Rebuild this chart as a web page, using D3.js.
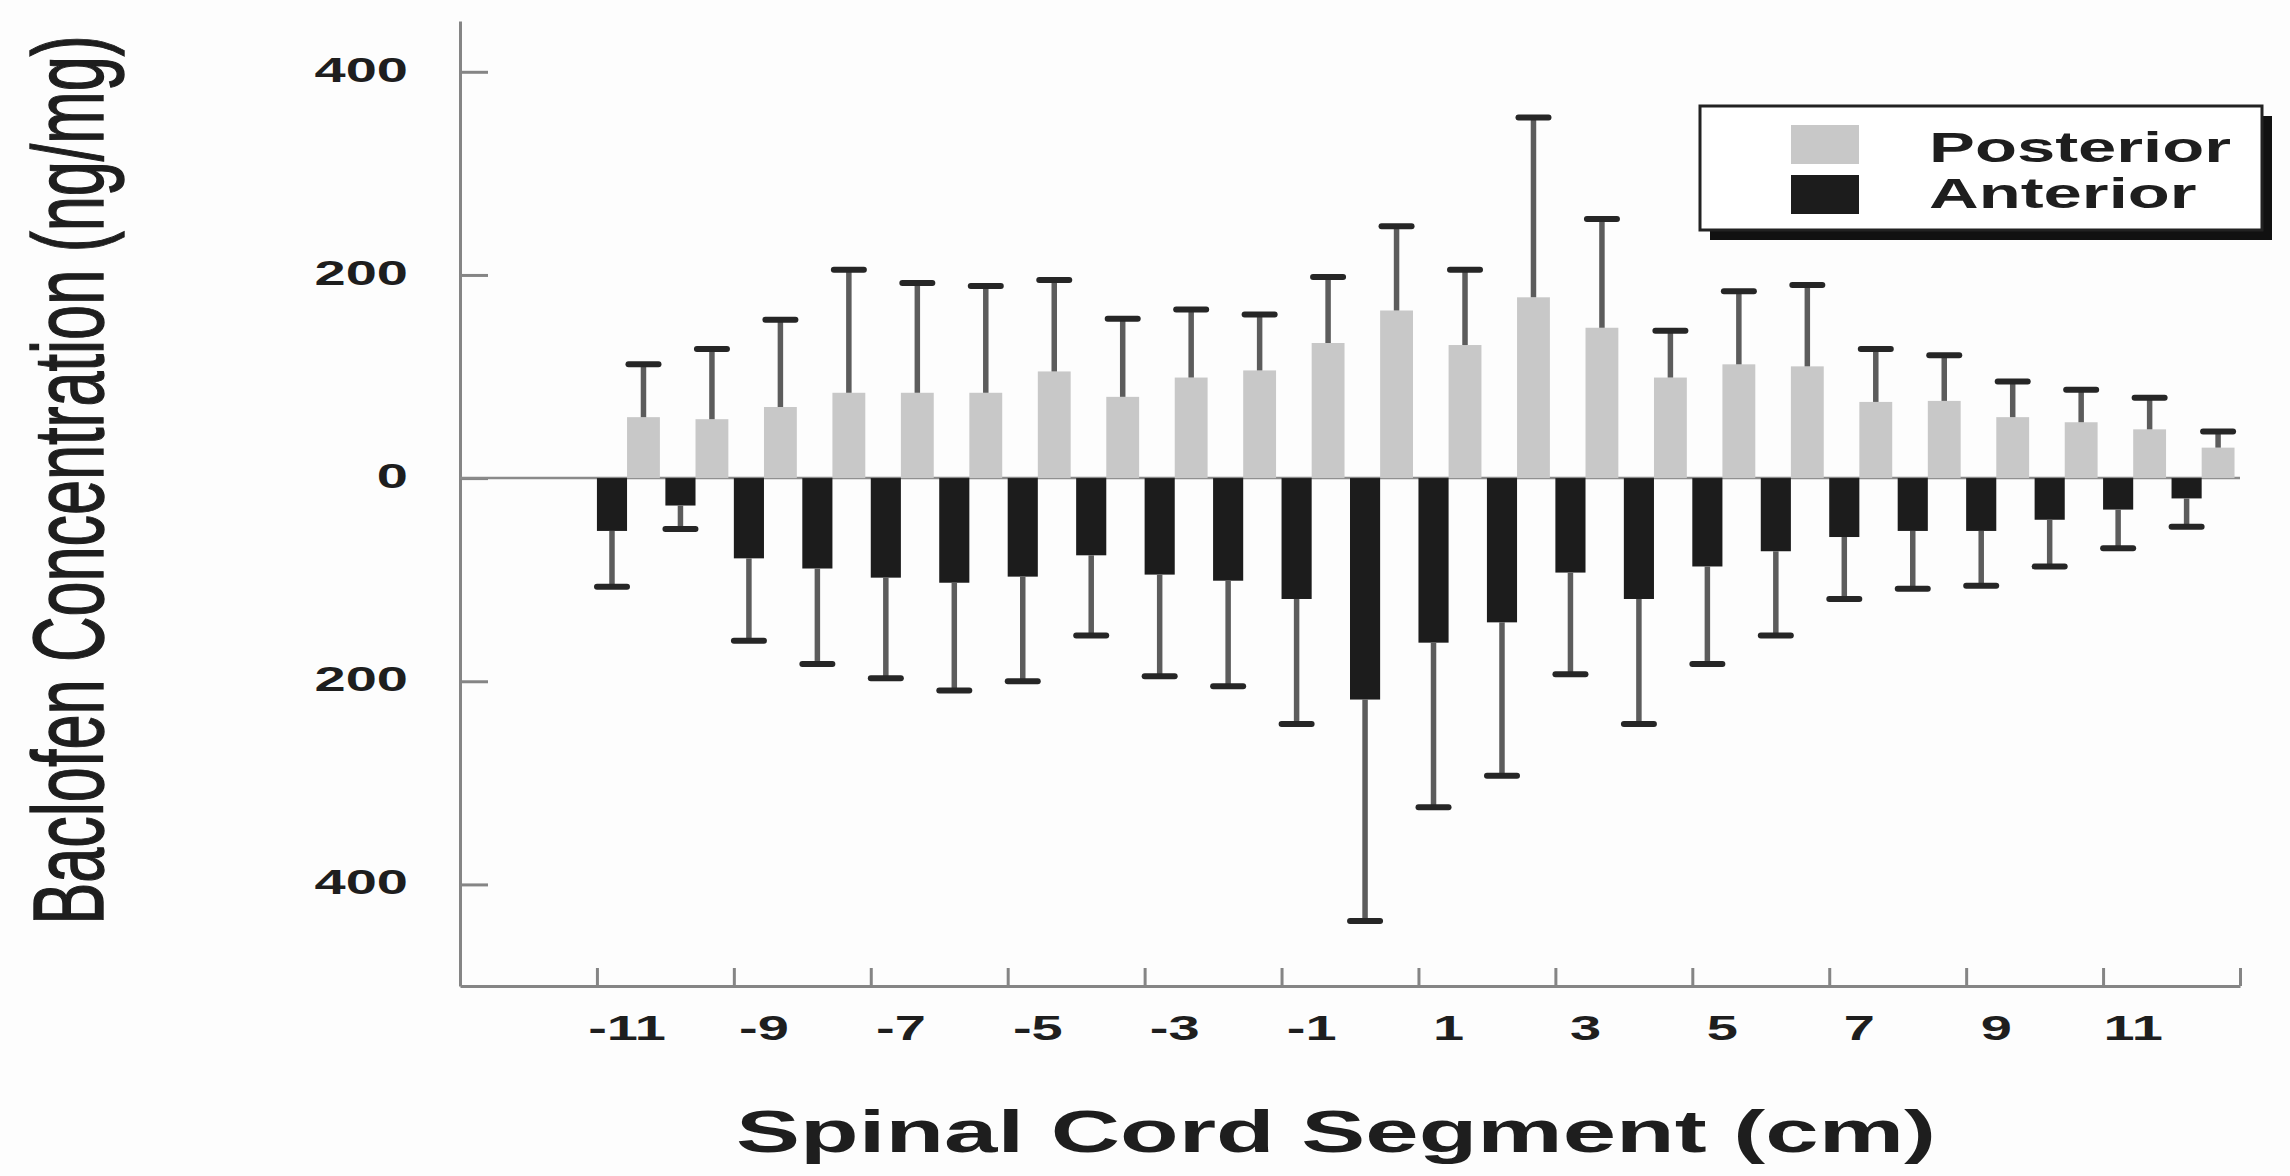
<!DOCTYPE html>
<html>
<head>
<meta charset="utf-8">
<script src="https://cdn.jsdelivr.net/npm/d3@7"></script>
<style>
  html, body { margin: 0; padding: 0; background: #fdfdfd; }
  svg { display: block; }
  text { font-family: "Liberation Sans", Arial, Helvetica, sans-serif; fill: #1e1e1e; }
</style>
</head>
<body>
<svg id="chart" width="2290" height="1176"></svg>
<script>
// Spinal cord segments (cm from the injection site)
const segments = [-11, -10, -9, -8, -7, -6, -5, -4, -3, -2, -1, 0, 1, 2, 3, 4, 5, 6, 7, 8, 9, 10, 11, 12];

// Baclofen concentration, ng/mg: mean and SD
const posteriorMean = [60, 58, 70, 84, 84, 84, 105, 80, 99, 106, 133, 165, 131, 178, 148, 99, 112, 110, 75, 76, 60, 55, 48, 30];
const posteriorSD   = [52, 69, 86, 121, 108, 105, 90, 77, 67, 55, 65, 83, 74, 177, 107, 46, 72, 80, 52, 45, 35, 32, 31, 16];
const anteriorMean  = [52, 27, 79, 89, 98, 103, 97, 76, 95, 101, 119, 218, 162, 142, 93, 119, 87, 72, 58, 52, 52, 41, 31, 20];
const anteriorSD    = [55, 23, 81, 94, 99, 106, 103, 79, 100, 104, 123, 218, 162, 151, 100, 123, 96, 83, 61, 57, 54, 46, 38, 28];

// Axis ticks
const yTickValues = [400, 200, 0, -200, -400];
const xTickValues = [-11, -9, -7, -5, -3, -1, 1, 3, 5, 7, 9, 11, 13];
const xLabelValues = [-11, -9, -7, -5, -3, -1, 1, 3, 5, 7, 9, 11];

const legendItems = ["Posterior", "Anterior"];
const colors = { Posterior: "#c8c8c8", Anterior: "#1c1c1c" };

// Lettering is set wide (horizontal stretch)
const STRETCH = 1.6;

const svg = d3.select("#chart");

const x = d3.scaleLinear().domain([-13, 13]).range([460, 2240]);
const y = d3.scaleLinear().domain([-500, 450]).range([986, 21]);

// Bar slots within one segment (in cm units)
const darkStart = 0.0, split = 0.44, lightEnd = 0.92;

// ---- Axes ----
const yAxis = d3.axisLeft(y)
  .tickValues(yTickValues)
  .tickSizeInner(-28)
  .tickSizeOuter(0)
  .tickFormat("");
const gy = svg.append("g").attr("transform", `translate(${x(-13)},0)`).call(yAxis);
gy.select(".domain").attr("stroke", "#858585").attr("stroke-width", 3);
gy.selectAll(".tick line").attr("stroke", "#858585").attr("stroke-width", 3);

const xAxis = d3.axisBottom(x)
  .tickValues(xTickValues)
  .tickSizeInner(-18)
  .tickSizeOuter(0)
  .tickFormat("");
const gx = svg.append("g").attr("transform", `translate(0,${y(-500)})`).call(xAxis);
gx.select(".domain").attr("stroke", "#858585").attr("stroke-width", 3);
gx.selectAll(".tick line").attr("stroke", "#858585").attr("stroke-width", 3);

// Y tick labels (absolute concentration on both sides of zero)
svg.append("g").selectAll("text")
  .data(yTickValues)
  .join("text")
  .attr("transform", d => `translate(408,${y(d) + 10}) scale(${STRETCH},1)`)
  .attr("text-anchor", "end")
  .attr("font-size", 35)
  .attr("font-weight", "bold")
  .text(d => Math.abs(d));

// X tick labels, centred on each labelled segment
svg.append("g").selectAll("text")
  .data(xLabelValues)
  .join("text")
  .attr("transform", d => `translate(${x(d + split)},1040) scale(${STRETCH},1)`)
  .attr("text-anchor", "middle")
  .attr("font-size", 35)
  .attr("font-weight", "bold")
  .text(d => d);

// Zero line
svg.append("line")
  .attr("x1", x(-13)).attr("x2", x(13))
  .attr("y1", y(0)).attr("y2", y(0))
  .attr("stroke", "#8a8a8a").attr("stroke-width", 2.5);

// ---- Bars ----
const rows = segments.map((s, i) => ({
  s,
  pm: posteriorMean[i], psd: posteriorSD[i],
  am: anteriorMean[i], asd: anteriorSD[i]
}));

const bars = svg.append("g");

// Posterior (up)
bars.selectAll("rect.post")
  .data(rows)
  .join("rect")
  .attr("class", "post")
  .attr("x", d => x(d.s + split))
  .attr("width", d => x(d.s + lightEnd) - x(d.s + split))
  .attr("y", d => y(d.pm))
  .attr("height", d => y(0) - y(d.pm))
  .attr("fill", colors.Posterior);

// Anterior (down)
bars.selectAll("rect.ant")
  .data(rows)
  .join("rect")
  .attr("class", "ant")
  .attr("x", d => x(d.s + darkStart))
  .attr("width", d => x(d.s + split) - x(d.s + darkStart))
  .attr("y", y(0))
  .attr("height", d => y(-d.am) - y(0))
  .attr("fill", colors.Anterior);

// ---- Error bars ----
const capHalf = 15;
const err = svg.append("g");

function drawErr(cls, cxf, fromf, tof) {
  const g = err.selectAll("g." + cls).data(rows).join("g").attr("class", cls);
  g.append("line")
    .attr("x1", cxf).attr("x2", cxf)
    .attr("y1", fromf).attr("y2", tof)
    .attr("stroke", "#5c5c5c").attr("stroke-width", 5.5);
  g.append("line")
    .attr("x1", d => cxf(d) - capHalf).attr("x2", d => cxf(d) + capHalf)
    .attr("y1", tof).attr("y2", tof)
    .attr("stroke", "#262626").attr("stroke-width", 6)
    .attr("stroke-linecap", "round");
}

drawErr("perr",
  d => (x(d.s + split) + x(d.s + lightEnd)) / 2,
  d => y(d.pm),
  d => y(d.pm + d.psd));

drawErr("aerr",
  d => (x(d.s + darkStart) + x(d.s + split)) / 2,
  d => y(-d.am),
  d => y(-d.am - d.asd));

// ---- Axis titles ----
svg.append("text")
  .attr("transform", `translate(1336,1152) scale(${STRETCH},1)`)
  .attr("text-anchor", "middle")
  .attr("font-size", 60)
  .attr("font-weight", "bold")
  .text("Spinal Cord Segment (cm)");

svg.append("text")
  .attr("transform", `translate(103,480) scale(${STRETCH},1) rotate(-90)`)
  .attr("text-anchor", "middle")
  .attr("font-size", 63)
  .attr("stroke", "#1e1e1e")
  .attr("stroke-width", 0.9)
  .text("Baclofen Concentration (ng/mg)");

// ---- Legend ----
const lg = svg.append("g");
lg.append("rect")
  .attr("x", 1710).attr("y", 116).attr("width", 562).attr("height", 124)
  .attr("fill", "#111");
lg.append("rect")
  .attr("x", 1700).attr("y", 106).attr("width", 562).attr("height", 124)
  .attr("fill", "#ffffff").attr("stroke", "#222").attr("stroke-width", 3);

const swatchY = [125, 175];
const labelY = [162, 208];
legendItems.forEach((name, i) => {
  lg.append("rect")
    .attr("x", 1791).attr("y", swatchY[i]).attr("width", 68).attr("height", 39)
    .attr("fill", colors[name]);
  lg.append("text")
    .attr("transform", `translate(1929,${labelY[i]}) scale(${STRETCH},1)`)
    .attr("font-size", 43)
    .attr("font-weight", "bold")
    .text(name);
});
</script>
</body>
</html>
